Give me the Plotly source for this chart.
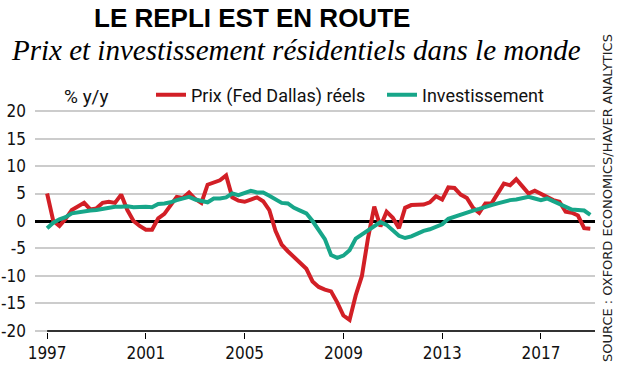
import plotly.graph_objects as go

start_year = 1997
years_ticks = [1997, 2001, 2005, 2009, 2013, 2017]
y_ticks = [-20, -15, -10, -5, 0, 5, 10, 15, 20]

prix_reels = [
    5.0, 0.0, -0.9, 0.4, 2.0, 2.6, 3.3, 2.1, 2.3, 3.3,
    3.5, 3.3, 4.8, 2.0, 0.0, -0.9, -1.6, -1.6, 0.5, 1.3,
    2.8, 4.4, 4.2, 5.2, 4.0, 3.3, 6.6, 7.0, 7.4, 8.3,
    4.3, 3.7, 3.5, 3.9, 4.3, 3.6, 2.0, -1.8, -4.3, -5.5,
    -6.6, -7.5, -8.7, -11.0, -12.0, -12.5, -12.8, -14.8, -17.2, -18.0,
    -13.5, -10.0, -3.0, 2.6, -1.0, 1.7, 0.6, -1.3, 2.4, 2.9,
    2.9, 3.0, 3.4, 4.5, 3.9, 6.1, 6.0, 4.8, 4.2, 2.4,
    1.5, 3.2, 3.2, 5.0, 6.8, 6.5, 7.6, 6.3, 5.0, 5.5,
    4.9, 4.3, 3.8, 3.5, 1.7, 1.5, 1.0, -1.3, -1.4,
]

investissement = [
    -1.3, -0.3, 0.3, 0.7, 1.4, 1.6, 1.7, 1.9, 2.0, 2.2,
    2.4, 2.6, 2.6, 2.7, 2.5, 2.6, 2.6, 2.5, 3.1, 3.2,
    3.4, 3.8, 4.1, 4.4, 3.9, 3.7, 3.4, 4.1, 4.1, 4.3,
    5.0, 4.7, 5.1, 5.5, 5.2, 5.2, 4.6, 3.9, 3.3, 3.2,
    2.4, 1.9, 1.4, 0.0, -1.5, -3.3, -6.2, -6.7, -6.3, -5.3,
    -3.2, -2.5, -1.8, -0.9, -0.2, -0.7, -1.8, -2.7, -3.1, -2.8,
    -2.3, -1.8, -1.5, -1.1, -0.6, 0.4, 0.8, 1.2, 1.6, 1.9,
    2.2, 2.6, 2.9, 3.2, 3.5, 3.8, 3.9, 4.2, 4.4, 4.1,
    3.8, 4.1, 3.6, 3.1, 2.6, 2.1, 2.0, 1.9, 1.1,
]

x_dates = [start_year + i / 4 for i in range(len(prix_reels))]

RED = "#d21f26"
GREEN = "#17a689"
SANS = "Roboto, Arial, sans-serif"
COND = "DejaVu Sans Condensed, Roboto, sans-serif"

W, H = 617, 366
PL, PR, PT, PB = 35, 595, 110, 332   # plot area in window pixels


def px(xw):
    return (xw - PL) / (PR - PL)


def py(yw):
    return (PB - yw) / (PB - PT)


fig = go.Figure()
fig.add_trace(go.Scatter(
    x=x_dates, y=prix_reels, mode="lines", name="Prix (Fed Dallas) réels",
    line=dict(color=RED, width=4),
))
fig.add_trace(go.Scatter(
    x=x_dates, y=investissement, mode="lines", name="Investissement",
    line=dict(color=GREEN, width=4),
))

x0, x1 = 1996.51, 2019.19

fig.add_shape(type="line", xref="x", yref="y", x0=1997, x1=x1, y0=-20, y1=-20,
              line=dict(color="black", width=1.5), layer="above")

fig.update_layout(
    width=W, height=H,
    margin=dict(l=PL, r=W - PR, t=PT, b=H - PB, autoexpand=False),
    paper_bgcolor="white", plot_bgcolor="white",
    hovermode=False,
    showlegend=True,
    legend=dict(
        orientation="h", xref="container", yref="container",
        x=151 / W, y=1 - 95 / H, xanchor="left", yanchor="middle",
        font=dict(family=SANS, size=18, color="#111"),
        bgcolor="rgba(0,0,0,0)", itemwidth=30,
        entrywidth=186, entrywidthmode="pixels",
    ),
    xaxis=dict(
        range=[x0, x1], tickvals=years_ticks, ticktext=[str(y) for y in years_ticks],
        showgrid=False, zeroline=False, showline=False, automargin=False,
        ticks="outside", ticklen=6, tickwidth=1.2, tickcolor="black",
        tickfont=dict(family=COND, size=17, color="#111"),
    ),
    yaxis=dict(
        range=[-20.2, 20.2], tickvals=y_ticks, ticktext=[str(v) for v in y_ticks],
        showgrid=True, gridcolor="#cccccc", gridwidth=2, automargin=False,
        zeroline=True, zerolinecolor="black", zerolinewidth=3,
        showline=False, ticks="", ticklabelstandoff=8,
        tickfont=dict(family=COND, size=17, color="#111"),
    ),
    annotations=[
        dict(text="<b>LE REPLI EST EN ROUTE</b>", xref="paper", yref="paper",
             x=px(252), y=py(18), xanchor="center", yanchor="middle",
             showarrow=False, font=dict(family="Liberation Sans, Arial", size=26, color="black")),
        dict(text="<i>Prix et investissement résidentiels dans le monde</i>", xref="paper", yref="paper",
             x=px(296), y=py(50), xanchor="center", yanchor="middle",
             showarrow=False, font=dict(family="Liberation Serif, Times New Roman, serif", size=29, color="black")),
        dict(text="% y/y", xref="paper", yref="paper",
             x=px(62), y=py(96), xanchor="left", yanchor="middle",
             showarrow=False, font=dict(family=SANS, size=19, color="#111")),
        dict(text="SOURCE : OXFORD ECONOMICS/HAVER ANALYTICS", xref="paper", yref="paper",
             x=px(607), y=py(198), xanchor="center", yanchor="middle",
             textangle=-90, showarrow=False,
             font=dict(family="DejaVu Sans, sans-serif", size=13, color="#222")),
    ],
)

fig.write_html("out.html", config={"displayModeBar": False},
               post_script="document.body.style.margin='0';")
